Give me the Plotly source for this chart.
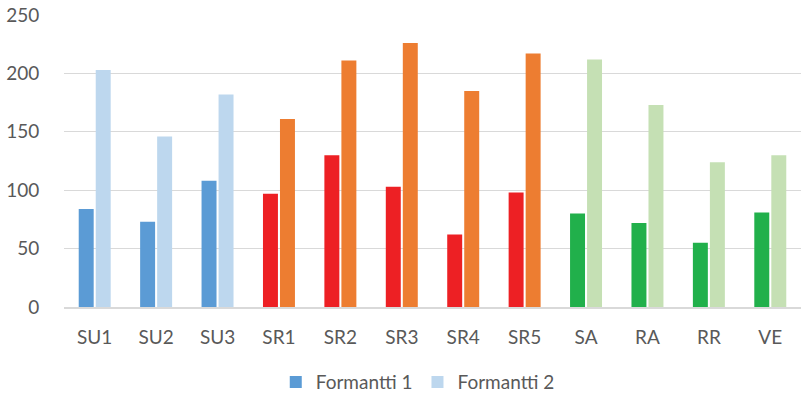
import plotly.graph_objects as go

categories = ["SU1", "SU2", "SU3", "SR1", "SR2", "SR3", "SR4", "SR5", "SA", "RA", "RR", "VE"]
formantti1 = [84, 73, 108, 97, 130, 103, 62, 98, 80, 72, 55, 81]
formantti2 = [203, 146, 182, 161, 211, 226, 185, 217, 212, 173, 124, 130]
groups = ["SU", "SU", "SU", "SR", "SR", "SR", "SR", "SR", "G", "G", "G", "G"]
y_ticks = [0, 50, 100, 150, 200, 250]

col1 = {"SU": "#5B9BD5", "SR": "#ED2024", "G": "#21B04B"}
col2 = {"SU": "#BDD7EE", "SR": "#ED7D31", "G": "#C5E0B4"}

font = "Lato, 'Open Sans', sans-serif"
grey = "#595959"

fig = go.Figure()
fig.add_trace(go.Bar(x=categories, y=formantti1, name="Formantti 1",
                     marker=dict(color=[col1[g] for g in groups], line=dict(width=0))))
fig.add_trace(go.Bar(x=categories, y=formantti2, name="Formantti 2",
                     marker=dict(color=[col2[g] for g in groups], line=dict(width=0))))

fig.update_layout(
    width=802, height=394,
    margin=dict(l=64, r=1, t=15, b=87, autoexpand=False),
    paper_bgcolor="white", plot_bgcolor="white",
    barmode="group", bargap=0.446, bargroupgap=0.12,
    font=dict(family=font, size=19, color=grey),
    showlegend=True,
    legend=dict(orientation="h", x=0.48, xanchor="center", y=-0.257, yanchor="middle",
                font=dict(family=font, size=19, color=grey), itemwidth=30,
                tracegroupgap=0),
    xaxis=dict(showgrid=False, showline=True, linecolor="#D9D9D9", linewidth=2,
               ticks="outside", ticklen=12, tickcolor="rgba(0,0,0,0)", automargin=False,
               tickfont=dict(family=font, size=19, color=grey)),
    yaxis=dict(range=[0, 250], tickvals=y_ticks, showgrid=True, gridcolor="#D9D9D9",
               gridwidth=1, zeroline=False, showline=False, automargin=False,
               ticks="outside", ticklen=20, tickcolor="rgba(0,0,0,0)",
               tickfont=dict(family=font, size=19, color=grey)),
)

fig.write_html("out.html")
